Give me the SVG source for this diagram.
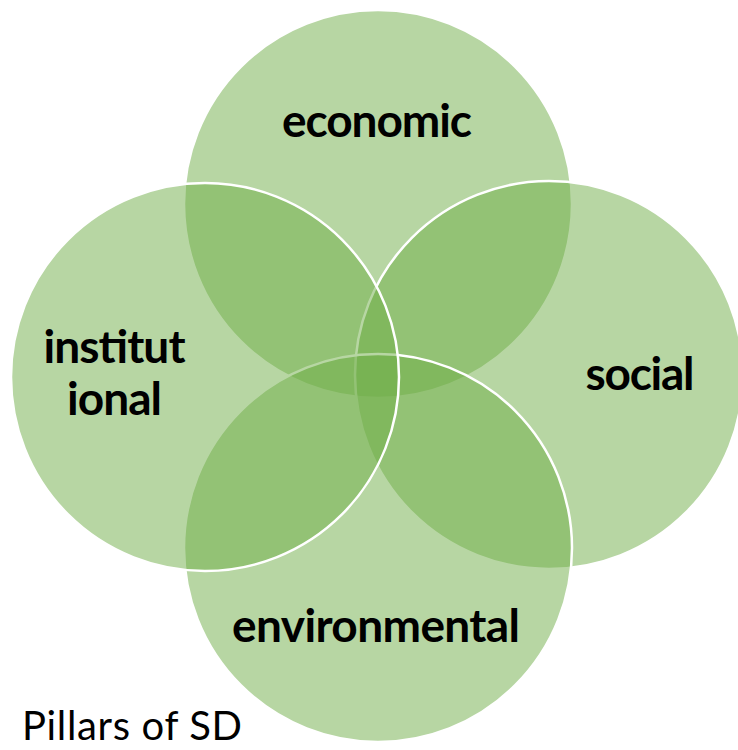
<svg xmlns="http://www.w3.org/2000/svg" width="738" height="750" viewBox="0 0 738 750">
<style>
.c{fill:#70AD47;fill-opacity:0.5;stroke:#FFFFFF;stroke-width:2.5}
.t{font-family:Lato,"Liberation Sans",sans-serif;font-weight:bold;font-size:46px;fill:#000;text-anchor:middle}
.cap{font-family:Lato,"Liberation Sans",sans-serif;font-size:40px;fill:#000}
</style>
<rect width="738" height="750" fill="#FFFFFF"/>
<g id="economic"><circle class="c" cx="378" cy="204" r="194"/><text class="t" x="377" y="137" textLength="190">economic</text></g>
<g id="social"><circle class="c" cx="549" cy="375" r="194"/><text class="t" x="640" y="390" textLength="109">social</text></g>
<g id="environmental"><circle class="c" cx="378" cy="548" r="194"/><text class="t" x="376" y="642" textLength="288">environmental</text></g>
<g id="institutional"><circle class="c" cx="205" cy="377" r="194"/><text class="t" x="114.5" y="363" textLength="142">institut</text><text class="t" x="114.5" y="415" textLength="95">ional</text></g>
<g id="connectors"></g>
<text class="cap" x="22" y="740" textLength="220">Pillars of SD</text>
</svg>
